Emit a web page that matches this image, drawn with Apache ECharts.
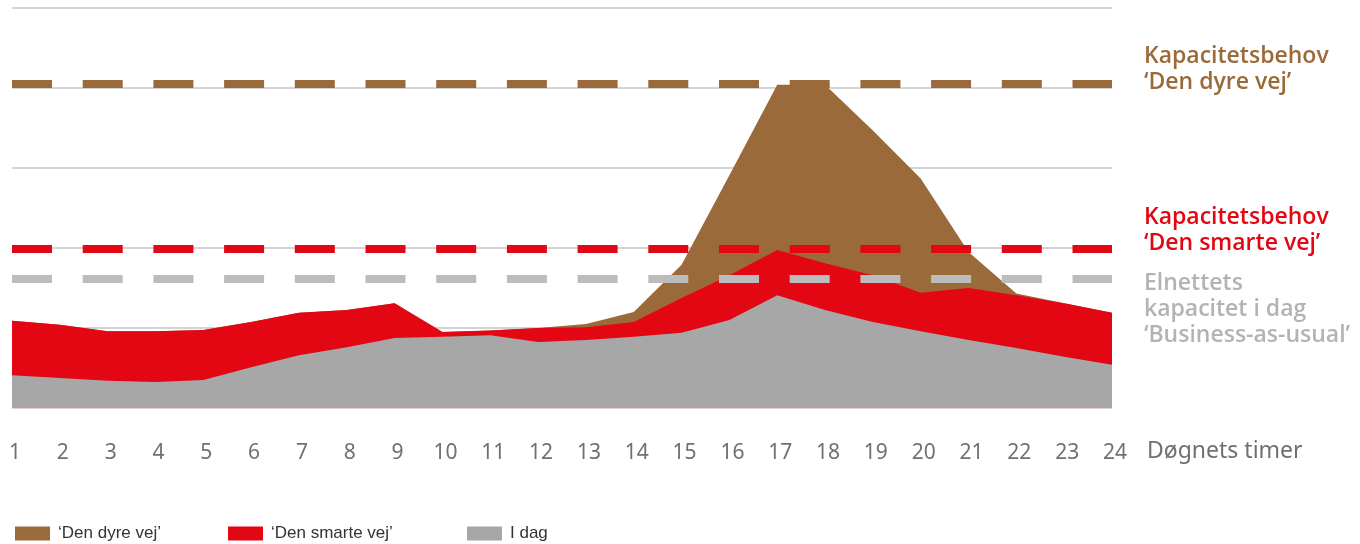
<!DOCTYPE html>
<html>
<head>
<meta charset="utf-8">
<script src="https://cdn.jsdelivr.net/npm/echarts@6.0.0/dist/echarts.min.js"></script>
<style>
  html, body { margin: 0; padding: 0; background: #fff; }
  #chart { width: 1360px; height: 544px; }
</style>
</head>
<body>
<div id="chart"></div>
<script>
// hours of the day
const hours = ["1", "2", "3", "4", "5", "6", "7", "8", "9", "10", "11", "12",
  "13", "14", "15", "16", "17", "18", "19", "20", "21", "22", "23", "24"];

// demand curves (relative units)
const dyreVej = [1.09, 1.04, 0.96, 0.96, 0.975, 1.075, 1.19, 1.225, 1.31, 0.95, 0.97, 1.0,
  1.05, 1.2, 1.79, 2.91, 4.04, 4.04, 3.47, 2.87, 1.95, 1.43, 1.31, 1.19];
const smarteVej = [1.09, 1.04, 0.96, 0.96, 0.975, 1.075, 1.19, 1.225, 1.31, 0.95, 0.97, 1.0,
  1.01, 1.075, 1.375, 1.66, 1.975, 1.81, 1.66, 1.44, 1.5, 1.41, 1.31, 1.19];
const iDag = [0.41, 0.375, 0.34, 0.325, 0.35, 0.51, 0.66, 0.76, 0.875, 0.89, 0.91, 0.825,
  0.85, 0.89, 0.94, 1.1, 1.41, 1.225, 1.075, 0.96, 0.85, 0.75, 0.64, 0.54];

// capacity levels drawn as dashed lines
const kapDyre = 4.05;
const kapSmart = 1.99;
const kapIdag = 1.61;

const BROWN = "#9b6a3a";
const RED = "#e30613";
const GREY = "#a7a7a7";
const DASH_GREY = "#bcbcbc";

const chart = echarts.init(document.getElementById("chart"), null, { renderer: "canvas" });

function dashedLine(value, color) {
  return {
    silent: true,
    symbol: "none",
    label: { show: false },
    lineStyle: { color, width: 8, type: [40, 30.7], cap: "butt" },
    data: [{ yAxis: value }]
  };
}

function legendFor(name, left) {
  return {
    data: [name],
    left,
    top: 525,
    padding: 0,
    icon: "rect",
    itemWidth: 35,
    itemHeight: 14,
    selectedMode: false,
    textStyle: { fontFamily: "Liberation Sans, sans-serif", fontSize: 17, color: "#333", padding: [0, 0, 0, 3] }
  };
}

const labelFont = "Open Sans, sans-serif";

chart.setOption({
  animation: false,
  grid: { left: 12, right: 248, top: 8, bottom: 136 },
  legend: [
    legendFor("‘Den dyre vej’", 15),
    legendFor("‘Den smarte vej’", 228),
    legendFor("I dag", 467)
  ],
  xAxis: {
    type: "category",
    data: hours,
    boundaryGap: false,
    axisLine: { show: true, lineStyle: { color: "#e6cfcf", width: 1 } },
    axisTick: { show: false },
    axisLabel: { margin: 35, fontSize: 21, color: "#707070", fontFamily: "Noto Sans, sans-serif", padding: [0, 0, 0, 6] },
    splitLine: { show: false }
  },
  yAxis: {
    type: "value",
    min: 0,
    max: 5,
    interval: 1,
    axisLabel: { show: false },
    axisLine: { show: false },
    axisTick: { show: false },
    splitLine: { show: true, lineStyle: { color: "#c6c6c6", width: 1.5 } }
  },
  series: [
    {
      name: "‘Den dyre vej’",
      type: "line",
      data: dyreVej,
      symbol: "none",
      z: 1,
      itemStyle: { color: BROWN },
      lineStyle: { width: 0 },
      areaStyle: { color: BROWN, opacity: 1 },
      markLine: dashedLine(kapDyre, BROWN)
    },
    {
      name: "‘Den smarte vej’",
      type: "line",
      data: smarteVej,
      symbol: "none",
      z: 2,
      itemStyle: { color: RED },
      lineStyle: { width: 0 },
      areaStyle: { color: RED, opacity: 1 },
      markLine: dashedLine(kapSmart, RED)
    },
    {
      name: "I dag",
      type: "line",
      data: iDag,
      symbol: "none",
      z: 3,
      itemStyle: { color: GREY },
      lineStyle: { width: 0 },
      areaStyle: { color: GREY, opacity: 1 }
    },
    {
      // carries only the dashed grey capacity line, drawn above the areas
      name: "kapacitet",
      type: "line",
      data: [],
      z: 4,
      markLine: dashedLine(kapIdag, DASH_GREY)
    }
  ],
  graphic: [
    {
      type: "text", left: 1144, top: 43, z: 10,
      style: { text: "Kapacitetsbehov\n‘Den dyre vej’", fill: BROWN, font: "600 23px " + labelFont, lineHeight: 26 }
    },
    {
      type: "text", left: 1144, top: 204, z: 10,
      style: { text: "Kapacitetsbehov\n‘Den smarte vej’", fill: RED, font: "600 23px " + labelFont, lineHeight: 26 }
    },
    {
      type: "text", left: 1144, top: 270, z: 10,
      style: { text: "Elnettets\nkapacitet i dag\n‘Business-as-usual’", fill: "#b3b3b3", font: "600 23px " + labelFont, lineHeight: 26 }
    },
    {
      type: "text", left: 1147, top: 440, z: 10,
      style: { text: "Døgnets timer", fill: "#707070", font: "23px Noto Sans, sans-serif" }
    }
  ]
});
</script>
</body>
</html>
